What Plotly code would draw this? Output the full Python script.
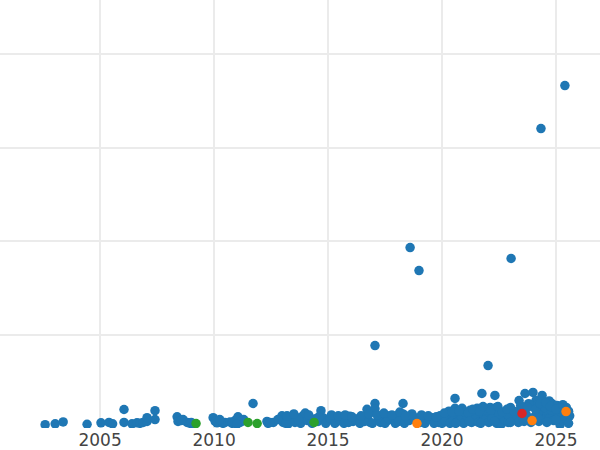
import plotly.graph_objects as go

# Blue series (main)
blue_years = [
    2002.59, 2003.03, 2003.38, 2004.43, 2005.04, 2005.39, 2005.55, 2006.05, 2006.05, 2006.40,
    2006.62, 2006.75, 2006.89, 2007.06, 2007.06, 2007.41, 2007.41, 2008.38, 2008.42, 2008.64,
    2008.82, 2008.95, 2009.10, 2009.96, 2010.05, 2010.13, 2010.39, 2010.48, 2010.70, 2010.92,
    2011.05, 2011.14, 2011.30, 2011.71, 2012.32, 2012.37, 2012.98, 2013.03, 2013.10, 2013.25,
    2013.33, 2013.46, 2013.64, 2013.80, 2013.90, 2014.00, 2014.10, 2014.21, 2014.56, 2014.69,
    2014.78, 2015.00, 2015.22, 2015.40, 2015.61, 2015.80, 2015.96, 2016.10, 2016.32, 2016.50,
    2016.71, 2016.71, 2016.85, 2017.06, 2017.06, 2017.06, 2017.20, 2017.41, 2017.60, 2017.72,
    2017.85, 2018.07, 2018.20, 2018.29, 2018.29, 2018.45, 2018.60, 2018.68, 2018.99, 2019.17,
    2019.30, 2019.56, 2019.70, 2019.91, 2020.05, 2020.26, 2020.40, 2020.57, 2020.57, 2020.70,
    2020.88, 2021.00, 2021.23, 2021.40, 2021.54, 2021.70, 2021.75, 2021.97, 2022.02, 2022.11,
    2022.24, 2022.32, 2022.37, 2022.50, 2022.68, 2022.80, 2022.98, 2023.03, 2023.20, 2023.29,
    2023.38, 2023.42, 2023.64, 2023.80, 2023.99, 2024.12, 2024.21, 2024.34, 2024.39, 2024.43,
    2024.61, 2024.82, 2024.96, 2025.04, 2025.18, 2025.26, 2025.39, 2025.53,
    2012.60, 2012.80, 2013.15, 2013.55, 2013.70, 2014.30, 2014.45, 2014.90, 2015.10, 2015.30,
    2015.50, 2015.70, 2015.90, 2016.20, 2016.40, 2016.60, 2016.95, 2017.30, 2017.50, 2017.65,
    2017.95, 2018.10, 2018.35, 2018.55, 2018.80, 2019.05, 2019.25, 2019.45, 2019.65, 2019.85,
    2020.00, 2020.15, 2020.35, 2020.50, 2020.65, 2020.80, 2020.95, 2021.10, 2021.30, 2021.45,
    2021.60, 2021.85, 2022.05, 2022.20, 2022.40, 2022.60, 2022.75, 2022.90, 2023.10, 2023.35,
    2023.55, 2023.70, 2023.90, 2024.05, 2024.25, 2024.50, 2024.70, 2024.90, 2025.10, 2025.30,
    2025.45, 2025.60, 2025.55,
    2020.30, 2021.00, 2021.90, 2022.50, 2023.00, 2023.60, 2024.00, 2024.50, 2024.80, 2025.20,
    2025.45, 2024.70, 2023.80, 2022.90,
    2013.20, 2013.50, 2014.15, 2014.60, 2015.15, 2015.45, 2015.75, 2016.05, 2016.45, 2016.80,
    2017.15, 2017.45, 2017.80, 2018.15, 2018.40, 2018.75, 2019.10, 2019.40, 2019.75, 2020.10,
    2020.45, 2020.75, 2021.15, 2021.35, 2021.65, 2021.80, 2022.15, 2022.45, 2022.65, 2022.85,
    2023.15, 2023.45, 2023.75, 2024.10, 2024.30, 2024.55, 2024.75, 2025.00, 2025.30, 2025.55,
    2025.00, 2024.60, 2024.20, 2023.60, 2023.00, 2022.30, 2021.70, 2021.20, 2020.60,
    2008.55, 2009.00, 2010.25, 2010.80, 2011.20, 2011.00, 2012.45,
]
blue_values = [
    0.35, 0.45, 0.65, 0.40, 0.55, 0.60, 0.45, 1.98, 0.60, 0.45,
    0.55, 0.50, 0.60, 0.70, 1.10, 1.85, 0.90, 1.20, 0.70, 0.90,
    0.60, 0.50, 0.45, 1.10, 0.70, 0.55, 0.50, 0.60, 0.65, 0.80,
    1.20, 0.60, 0.90, 2.62, 0.70, 0.50, 1.30, 0.60, 0.90, 0.45,
    1.00, 0.80, 1.10, 0.50, 1.30, 1.60, 0.80, 1.00, 0.70, 1.85,
    1.10, 0.80, 1.10, 0.70, 1.20, 0.90, 1.25, 0.70, 1.00, 0.80,
    2.00, 1.20, 0.60, 2.62, 2.05, 8.82, 0.90, 1.10, 0.80, 1.30,
    0.90, 1.40, 0.80, 2.62, 1.50, 1.00, 19.30, 1.50, 16.84, 1.10,
    0.80, 1.10, 0.70, 1.30, 0.90, 1.50, 1.00, 3.16, 2.10, 1.30,
    2.10, 1.00, 1.90, 1.30, 2.10, 1.10, 3.69, 1.50, 6.68, 2.20,
    1.60, 3.48, 2.19, 0.80, 1.10, 1.80, 1.60, 18.13, 0.90, 1.20,
    2.94, 1.90, 3.69, 1.00, 3.80, 2.94, 1.90, 32.03, 3.48, 1.50,
    1.60, 2.62, 1.60, 2.41, 0.35, 1.20, 36.63, 1.20,
    0.60, 0.90, 0.50, 0.60, 0.90, 0.50, 1.00, 0.50, 1.00, 0.50,
    0.90, 0.50, 0.60, 0.90, 0.50, 0.70, 0.50, 0.60, 0.50, 1.00,
    0.50, 0.70, 0.50, 0.80, 0.90, 0.60, 0.50, 0.90, 0.50, 0.60,
    0.50, 0.70, 0.50, 0.80, 0.60, 0.90, 0.50, 1.30, 0.60, 0.90,
    0.60, 0.80, 0.60, 1.00, 0.50, 0.40, 0.90, 0.60, 1.00, 0.60,
    0.90, 1.40, 0.60, 1.20, 0.70, 0.90, 1.00, 0.80, 1.30, 0.80,
    1.00, 1.30, 0.50,
    1.80, 1.70, 1.90, 1.50, 2.20, 2.00, 2.30, 2.20, 1.90, 2.00,
    2.20, 2.90, 2.60, 1.40,
    1.30, 1.50, 1.40, 1.20, 1.40, 1.30, 1.40, 1.20, 1.30, 1.50,
    1.40, 1.60, 1.40, 1.70, 1.30, 1.20, 1.40, 1.30, 1.20, 1.60,
    1.70, 1.80, 1.60, 2.00, 1.80, 2.30, 1.90, 2.30, 1.70, 2.00,
    1.80, 2.40, 2.20, 2.00, 2.60, 2.70, 2.30, 2.00, 2.50, 1.80,
    0.90, 0.60, 1.10, 0.70, 0.60, 0.70, 0.50, 0.70, 0.50,
    0.80, 0.60, 0.90, 0.50, 0.70, 0.40, 0.60,
]

orange_years = [2018.90, 2023.95, 2025.44]
orange_values = [0.48, 0.80, 1.76]

green_years = [2009.21, 2011.49, 2011.89, 2014.39]
green_values = [0.48, 0.59, 0.48, 0.59]

red_years = [2023.51]
red_values = [1.55]

x_ticks = [2005, 2010, 2015, 2020, 2025]
x_tick_labels = ["2005", "2010", "2015", "2020", "2025"]

fig = go.Figure()
for xs, ys, col in [
    (blue_years, blue_values, "#1f77b4"),
    (orange_years, orange_values, "#ff7f0e"),
    (green_years, green_values, "#2ca02c"),
    (red_years, red_values, "#d62728"),
]:
    fig.add_trace(go.Scatter(
        x=xs, y=ys, mode="markers",
        marker=dict(color=col, size=9.5, line=dict(width=0)),
        showlegend=False, hoverinfo="skip",
    ))

fig.update_layout(
    width=600, height=450,
    template="none",
    paper_bgcolor="white", plot_bgcolor="white",
    margin=dict(l=0, r=0, t=0, b=22),
    font=dict(family="DejaVu Sans", size=17, color="#444444"),
    xaxis=dict(
        range=[2000.61, 2026.93],
        tickvals=x_ticks, ticktext=x_tick_labels,
        showgrid=True, gridcolor="#ebebeb", gridwidth=2,
        zeroline=False, showline=False, ticks="",
    ),
    yaxis=dict(
        range=[0, 45.78], dtick=10, tick0=0,
        showticklabels=False,
        showgrid=True, gridcolor="#ebebeb", gridwidth=2,
        zeroline=False, showline=False, ticks="",
    ),
)

fig.write_html(
    "out.html",
    config={"displayModeBar": False},
    post_script="document.body.style.margin='0px';",
)
